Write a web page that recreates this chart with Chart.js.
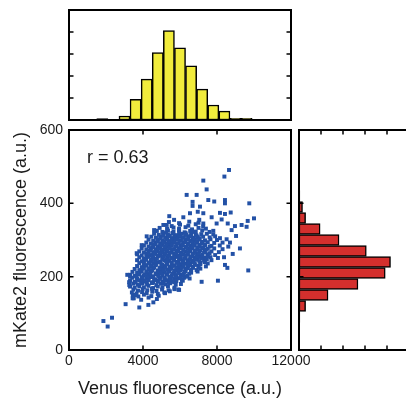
<!DOCTYPE html>
<html>
<head>
<meta charset="utf-8">
<script src="https://cdn.jsdelivr.net/npm/chart.js@4"></script>
<style>
html, body { margin: 0; padding: 0; background: #fff; overflow: hidden; }
#wrap { position: relative; width: 406px; height: 400px; overflow: hidden; }
canvas { position: absolute; left: 0; top: 0; }
</style>
</head>
<body>
<div id="wrap">
<canvas id="topHist" width="412" height="400"></canvas>
<canvas id="sideHist" width="412" height="400"></canvas>
<canvas id="scatter" width="412" height="400"></canvas>
</div>
<script>
// axis ticks
const venusTicks = [4000, 8000];
const mkateTicks = [200, 400];
const countTicks = [50, 100, 150, 200];

// histogram of Venus (top), bin centres + counts
const venusBins = [1800, 2400, 3000, 3600, 4200, 4800, 5400, 6000, 6600, 7200, 7800, 8400, 9000, 9600];
const venusCounts = [3, 0, 9, 47, 93, 153, 203, 164, 123, 70, 34, 20, 4, 4];

// histogram of mKate2 (right side)
const mkateBins = [90, 120, 150, 180, 210, 240, 270, 300, 330, 360, 390, 420];
const mkateCounts = [2, 15, 66, 134, 196, 208, 153, 91, 48, 15, 8, 2];

// single cells (one line = one band)
const venus = [
  3500, 3900, 4300, 4750,
  3450, 3750, 4050, 4450, 4850,
  3400, 3650, 3950, 4200, 4500, 4800, 5150, 5450,
  3480, 3730, 3980, 4230, 4480, 4730, 5030, 5380, 5700, 5950,
  3300, 3550, 3800, 4050, 4300, 4550, 4800, 5050, 5350, 5700,
  3470, 3720, 3970, 4220, 4470, 4720, 4970, 5220, 5470, 5770, 6050,
  3300, 3550, 3800, 4050, 4300, 4550, 4800, 5050, 5300, 5550, 5800, 6150,
  3420, 3680, 3930, 4180, 4430, 4680, 4930, 5180, 5430, 5680, 5930, 6230, 6520,
  3300, 3550, 3800, 4050, 4300, 4550, 4800, 5050, 5300, 5550, 5800, 6050, 6400,
  3430, 3680, 3930, 4180, 4430, 4680, 4930, 5180, 5430, 5680, 5930, 6230, 6600, 6950,
  3550, 3800, 4050, 4300, 4550, 4800, 5050, 5300, 5550, 5800, 6050, 6300, 6600, 7100,
  3680, 3930, 4180, 4430, 4680, 4930, 5180, 5430, 5680, 5930, 6180, 6430, 6700, 7000, 7400,
  3800, 4050, 4300, 4550, 4800, 5050, 5300, 5550, 5800, 6050, 6300, 6550, 6800, 7100, 7500,
  3680, 3930, 4180, 4430, 4680, 4930, 5180, 5430, 5680, 5930, 6180, 6430, 6680, 6950, 7300, 7700,
  3800, 4050, 4300, 4550, 4800, 5050, 5300, 5550, 5800, 6050, 6300, 6550, 6800, 7050, 7350, 7650, 8050,
  3680, 3930, 4180, 4430, 4680, 4930, 5180, 5430, 5680, 5930, 6180, 6430, 6680, 6930, 7200, 7500, 7900,
  3800, 4050, 4300, 4550, 4800, 5050, 5300, 5550, 5800, 6050, 6300, 6550, 6800, 7050, 7350, 7700, 8100,
  3930, 4180, 4430, 4680, 4930, 5180, 5430, 5680, 5930, 6180, 6430, 6680, 6930, 7200, 7500, 7850, 8300,
  4050, 4300, 4550, 4800, 5050, 5300, 5550, 5800, 6050, 6300, 6550, 6800, 7050, 7350, 7700, 8150,
  4180, 4430, 4680, 4930, 5180, 5430, 5680, 5930, 6180, 6430, 6680, 6930, 7180, 7500, 7850, 8300,
  4300, 4550, 4800, 5050, 5300, 5550, 5800, 6050, 6300, 6550, 6800, 7050, 7350, 7650, 8000,
  4450, 4700, 4950, 5200, 5450, 5700, 5950, 6200, 6450, 6700, 6950, 7250, 7600, 7900,
  4600, 4850, 5100, 5350, 5600, 5850, 6100, 6350, 6600, 6850, 7150, 7450, 7800,
  4750, 5050, 5350, 5650, 5950, 6250, 6550, 6850, 7200, 7600,
  4900, 5300, 5650, 5950, 6300, 6650, 7000, 7400,
  5100, 5550, 6000, 6450, 6850, 7250,
  5400, 5950, 6500, 7000,
  // denser middle of the cloud
  3600, 3900, 4200, 4500, 4800, 5100, 5400, 5700,
  3700, 4000, 4300, 4600, 4900, 5200, 5500, 5800, 6100,
  3650, 3950, 4250, 4550, 4850, 5150, 5450, 5750, 6050, 6350,
  3800, 4100, 4400, 4700, 5000, 5300, 5600, 5900, 6200, 6500,
  3900, 4200, 4500, 4800, 5100, 5400, 5700, 6000, 6300, 6600, 6900,
  4000, 4300, 4600, 4900, 5200, 5500, 5800, 6100, 6400, 6700, 7000,
  4100, 4400, 4700, 5000, 5300, 5600, 5900, 6200, 6500, 6800, 7100,
  4050, 4350, 4650, 4950, 5250, 5550, 5850, 6150, 6450, 6750, 7050, 7350,
  4150, 4450, 4750, 5050, 5350, 5650, 5950, 6250, 6550, 6850, 7150, 7450,
  4200, 4500, 4800, 5100, 5400, 5700, 6000, 6300, 6600, 6900, 7200, 7500,
  4300, 4600, 4900, 5200, 5500, 5800, 6100, 6400, 6700, 7000, 7300, 7600,
  4400, 4700, 5000, 5300, 5600, 5900, 6200, 6500, 6800, 7100, 7400,
  4550, 4850, 5150, 5450, 5750, 6050, 6350, 6650, 6950, 7250, 7600,
  4650, 4950, 5250, 5550, 5850, 6150, 6450, 6750, 7050, 7350,
  4800, 5100, 5400, 5700, 6000, 6300, 6600, 6900, 7200,
  4950, 5250, 5550, 5850, 6150, 6450, 6750, 7050,
  5100, 5400, 5700, 6000, 6300, 6600, 6900,
  5250, 5600, 5950, 6300, 6650,
  // stray cells
  1860, 2090, 2325, 3060, 3800, 4290, 4560, 3300, 3260, 3440, 3570, 5190, 5910, 7170, 8050,
  9690, 8560, 8430, 8380, 8850, 9240, 8610, 8700, 8520, 8160, 9030, 7800, 8790, 9600, 8970,
  9330, 7980, 8580, 9660, 10000, 8250, 7710, 8160, 8430, 8740, 7850, 8430, 8430, 9745, 8650,
  8400, 7260, 6360, 6900, 7440, 7530, 6680, 6680, 7080, 6960, 6540, 5420, 7260, 5680, 6180,
  4690, 5280, 7040, 7260, 4600, 3660, 3930, 4200, 3150, 3250
];
const mkate2 = [
  141, 137, 143, 139,
  149, 146, 151, 147, 148,
  157, 154, 158, 155, 159, 153, 157, 160,
  165, 162, 166, 163, 167, 161, 165, 163, 166, 164,
  173, 170, 174, 171, 175, 169, 173, 171, 174, 170,
  181, 178, 182, 179, 183, 177, 181, 179, 182, 178, 180,
  189, 186, 190, 187, 191, 185, 189, 187, 190, 186, 188, 189,
  197, 194, 198, 195, 199, 193, 197, 195, 198, 194, 196, 197, 195,
  205, 202, 206, 203, 207, 201, 205, 203, 206, 202, 204, 205, 203,
  213, 210, 214, 211, 215, 209, 213, 211, 214, 210, 212, 213, 211, 214,
  221, 218, 222, 219, 223, 217, 221, 219, 222, 218, 220, 221, 219, 222,
  229, 226, 230, 227, 231, 225, 229, 227, 230, 226, 228, 229, 227, 230, 228,
  237, 234, 238, 235, 239, 233, 237, 235, 238, 234, 236, 237, 235, 238, 236,
  245, 242, 246, 243, 247, 241, 245, 243, 246, 242, 244, 245, 243, 246, 244, 245,
  253, 250, 254, 251, 255, 249, 253, 251, 254, 250, 252, 253, 251, 254, 252, 253, 251,
  261, 258, 262, 259, 263, 257, 261, 259, 262, 258, 260, 261, 259, 262, 260, 261, 259,
  269, 266, 270, 267, 271, 265, 269, 267, 270, 266, 268, 269, 267, 270, 268, 269, 267,
  277, 274, 278, 275, 279, 273, 277, 275, 278, 274, 276, 277, 275, 278, 276, 277, 275,
  285, 282, 286, 283, 287, 281, 285, 283, 286, 282, 284, 285, 283, 286, 284, 285,
  293, 290, 294, 291, 295, 289, 293, 291, 294, 290, 292, 293, 291, 294, 292, 293,
  301, 298, 302, 299, 303, 297, 301, 299, 302, 298, 300, 301, 299, 302, 300,
  309, 306, 310, 307, 311, 305, 309, 307, 310, 306, 308, 309, 307, 310,
  317, 314, 318, 315, 319, 313, 317, 315, 318, 314, 316, 317, 315,
  325, 322, 326, 323, 327, 321, 325, 323, 326, 322,
  333, 330, 334, 331, 335, 329, 333, 331,
  341, 338, 342, 339, 343, 337,
  349, 346, 350, 347,
  // denser middle of the cloud
  184, 182, 185, 183, 186, 182, 184, 185,
  192, 190, 193, 191, 194, 190, 192, 193, 191,
  200, 198, 201, 199, 202, 198, 200, 201, 199, 200,
  208, 206, 209, 207, 210, 206, 208, 209, 207, 208,
  216, 214, 217, 215, 218, 214, 216, 217, 215, 216, 218,
  224, 222, 225, 223, 226, 222, 224, 225, 223, 224, 226,
  232, 230, 233, 231, 234, 230, 232, 233, 231, 232, 234,
  240, 238, 241, 239, 242, 238, 240, 241, 239, 240, 242, 240,
  248, 246, 249, 247, 250, 246, 248, 249, 247, 248, 250, 248,
  256, 254, 257, 255, 258, 254, 256, 257, 255, 256, 258, 256,
  264, 262, 265, 263, 266, 262, 264, 265, 263, 264, 266, 264,
  272, 270, 273, 271, 274, 270, 272, 273, 271, 272, 274,
  280, 278, 281, 279, 282, 278, 280, 281, 279, 280, 282,
  288, 286, 289, 287, 290, 286, 288, 289, 287, 288,
  296, 294, 297, 295, 298, 294, 296, 297, 295,
  304, 302, 305, 303, 306, 302, 304, 305,
  312, 310, 313, 311, 314, 310, 312,
  320, 318, 321, 319, 322,
  // stray cells
  79, 64, 88, 125, 116, 123, 130, 200, 177, 141, 150, 155, 165, 186, 189,
  217, 224, 232, 253, 262, 277, 282, 293, 302, 305, 311, 325, 327, 336, 338,
  341, 345, 345, 352, 359, 356, 362, 374, 371, 375, 405, 409, 400, 400, 491,
  473, 462, 423, 423, 438, 409, 404, 393, 391, 377, 373, 365, 373, 355, 362,
  325, 341, 355, 345, 327, 264, 286, 310, 205, 185
];

const fontFam = "'Liberation Sans', Arial, sans-serif";
Chart.defaults.font.family = fontFam;
Chart.defaults.color = '#1a1a1a';

// draws the black box and the small inward tick marks
const boxPlugin = {
  id: 'box',
  afterDraw(chart, args, opts) {
    const ctx = chart.ctx;
    const a = chart.chartArea;
    const sx = chart.scales.x, sy = chart.scales.y;
    const L = 4.5;
    ctx.save();
    ctx.strokeStyle = '#000';
    ctx.lineWidth = 1.5;
    ctx.beginPath();
    (opts.xTicks || []).forEach(v => {
      const p = sx.getPixelForValue(v);
      if (opts.sides.includes('b')) { ctx.moveTo(p, a.bottom); ctx.lineTo(p, a.bottom - L); }
      if (opts.sides.includes('t')) { ctx.moveTo(p, a.top); ctx.lineTo(p, a.top + L); }
    });
    (opts.yTicks || []).forEach(v => {
      const p = sy.getPixelForValue(v);
      if (opts.sides.includes('l')) { ctx.moveTo(a.left, p); ctx.lineTo(a.left + L, p); }
      if (opts.sides.includes('r')) { ctx.moveTo(a.right, p); ctx.lineTo(a.right - L, p); }
    });
    ctx.stroke();
    ctx.lineWidth = 2;
    ctx.strokeRect(a.left, a.top, a.right - a.left, a.bottom - a.top);
    if (opts.label) {
      ctx.fillStyle = '#1a1a1a';
      ctx.font = '18px ' + fontFam;
      ctx.textBaseline = 'alphabetic';
      ctx.fillText(opts.label, a.left + 18, a.top + 33);
    }
    ctx.restore();
  }
};

// top histogram
new Chart(document.getElementById('topHist'), {
  type: 'bar',
  data: {
    datasets: [{
      data: venusBins.map((b, i) => ({ x: b, y: venusCounts[i] })),
      backgroundColor: '#f1ec3c',
      borderColor: '#000',
      borderWidth: 1.5,
      borderSkipped: false,
      barPercentage: 1,
      categoryPercentage: 1
    }]
  },
  options: {
    responsive: false,
    animation: false,
    events: [],
    layout: { padding: { left: 69, right: 121, top: 10, bottom: 280 } },
    plugins: { legend: { display: false }, tooltip: { enabled: false },
      box: { yTicks: countTicks, sides: 'lr' } },
    scales: {
      x: { type: 'linear', min: 0, max: 12000, offset: false, display: false, ticks: { stepSize: 6000 } },
      y: { min: 0, max: 250, display: false }
    }
  },
  plugins: [boxPlugin]
});

// side histogram
new Chart(document.getElementById('sideHist'), {
  type: 'bar',
  data: {
    datasets: [{
      data: mkateBins.map((b, i) => ({ x: mkateCounts[i], y: b })),
      backgroundColor: '#d42f2d',
      borderColor: '#000',
      borderWidth: 1.5,
      borderSkipped: false,
      barPercentage: 1,
      categoryPercentage: 1
    }]
  },
  options: {
    indexAxis: 'y',
    responsive: false,
    animation: false,
    events: [],
    layout: { padding: { left: 299, right: 3, top: 130, bottom: 50 } },
    plugins: { legend: { display: false }, tooltip: { enabled: false },
      box: { xTicks: countTicks, yTicks: mkateTicks, sides: 'tbl' } },
    scales: {
      x: { type: 'linear', min: 0, max: 250, display: false },
      y: { type: 'linear', min: 0, max: 600, offset: false, display: false, ticks: { stepSize: 300 } }
    }
  },
  plugins: [boxPlugin]
});

// main scatter
new Chart(document.getElementById('scatter'), {
  type: 'scatter',
  data: {
    datasets: [{
      data: venus.map((v, i) => ({ x: v, y: mkate2[i] })),
      backgroundColor: '#2351a6',
      borderWidth: 0,
      pointStyle: 'rect',
      pointRadius: 2.8
    }]
  },
  options: {
    responsive: false,
    animation: false,
    events: [],
    layout: { padding: { left: 0, right: 121, top: 130, bottom: 0 } },
    plugins: { legend: { display: false }, tooltip: { enabled: false },
      box: { xTicks: venusTicks, yTicks: mkateTicks, sides: 'tblr', label: 'r = 0.63' } },
    scales: {
      x: {
        type: 'linear', min: 0, max: 12000,
        afterFit: s => { s.height = 50; },
        grid: { display: false, drawTicks: false },
        border: { display: false },
        ticks: { stepSize: 4000, padding: 3, font: { size: 14 }, maxRotation: 0, callback: v => String(v) },
        title: { display: true, text: 'Venus fluorescence (a.u.)', font: { size: 18 }, padding: 0 }
      },
      y: {
        min: 0, max: 600,
        afterFit: s => { s.width = 69; },
        grid: { display: false, drawTicks: false },
        border: { display: false },
        ticks: { stepSize: 200, padding: 6, font: { size: 14 } },
        title: { display: true, text: 'mKate2 fluorescence (a.u.)', font: { size: 18 }, padding: { top: 10, bottom: 0 } }
      }
    }
  },
  plugins: [boxPlugin]
});
</script>
</body>
</html>
